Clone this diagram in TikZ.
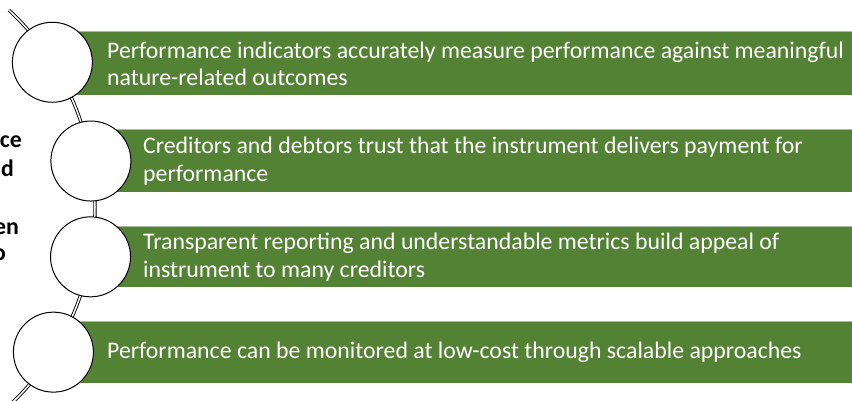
\documentclass[tikz,border=0pt]{standalone}
\usepackage{fontspec}
\setmainfont{Carlito}
\definecolor{barGreen}{HTML}{548235}
\definecolor{barEdge}{HTML}{A9B8A0}
\begin{document}
\begin{tikzpicture}[x=1pt,y=-1pt,
  bar/.style={fill=barGreen,draw=none},
  baredge/.style={draw=barEdge,line width=1pt},
  ring/.style={circle,draw=black,fill=white,line width=1pt,minimum size=80pt,inner sep=0pt},
  spine/.style={draw=black,line width=0.9pt,double=white,double distance=1.5pt},
  bartext/.style={anchor=west,text=white,font=\fontsize{23.8}{27.5}\selectfont,align=left,inner sep=0pt},
  sidetext/.style={anchor=east,font=\bfseries\fontsize{23.8}{27.5}\selectfont,inner sep=0pt}]
\useasboundingbox (0,0) rectangle (852,400);

% partly hidden heading text on the left
\node[sidetext] (s1) at (22,142) {ce};
\node[sidetext] (s2) at (14,168) {d};
\node[sidetext] (s3) at (19,229) {en};
\node[sidetext] (s4) at (6,255) {o};

% green bands
\fill[bar] (55,31) rectangle (852,95);
\fill[bar] (92,129) rectangle (852,192);
\fill[bar] (92,226) rectangle (852,287);
\fill[bar] (55,321) rectangle (852,383);
\draw[baredge] (55,31.5) -- (852,31.5);
\draw[baredge] (92,129.5) -- (852,129.5);
\draw[baredge] (92,226.5) -- (852,226.5);
\draw[baredge] (55,321.5) -- (852,321.5);

% curved spine through the circles
\coordinate (C) at (-175.5,208);
\draw[spine] (C) ++(-47:270.5) arc[start angle=-47,end angle=48,radius=270.5];

% circles on the spine
\path (C) ++(-32.6:270.5) node[ring] (c1) {};
\path (C) ++(-10:270.5) node[ring] (c2) {};
\path (C) ++(10.4:270.5) node[ring] (c3) {};
\path (C) ++(32.2:270.5) node[ring] (c4) {};

% band texts
\node[bartext] (t1) at (107,64) {Performance indicators accurately measure performance against meaningful\\nature-related outcomes};
\node[bartext] (t2) at (143,161) {Creditors and debtors trust that the instrument delivers payment for\\performance};
\node[bartext] (t3) at (143,257) {Transparent reporting and understandable metrics build appeal of\\instrument to many creditors};
\node[bartext] (t4) at (107,352) {Performance can be monitored at low-cost through scalable approaches};
\end{tikzpicture}
\end{document}
